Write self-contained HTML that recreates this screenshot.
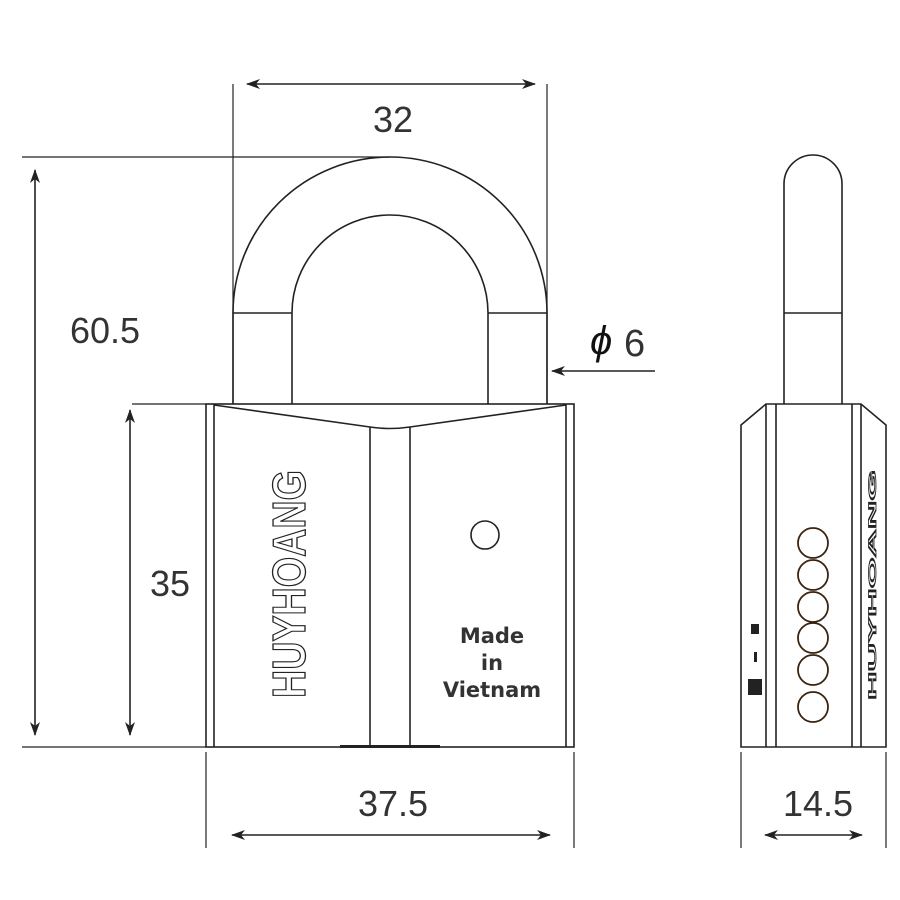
<!DOCTYPE html>
<html><head><meta charset="utf-8"><style>html,body{margin:0;padding:0;background:#fff}svg{display:block}</style></head><body>
<svg width="900" height="900" viewBox="0 0 900 900" xmlns="http://www.w3.org/2000/svg">
<defs>
<marker id="ah" viewBox="0 0 14 10" refX="13" refY="5" markerWidth="14" markerHeight="10" markerUnits="userSpaceOnUse" orient="auto-start-reverse"><path d="M0,0 L14,5 L0,10 L4,5 Z" fill="#222"/></marker>
</defs>
<g fill="none" stroke="#222" stroke-width="1.6">
<path d="M233,404 L233,313 A157,156 0 0 1 547,313 L547,404"/>
<path d="M292,404 L292,313 A98,98 0 0 1 488,313 L488,404"/>
<line x1="233" y1="313" x2="292" y2="313"/>
<line x1="488" y1="313" x2="547" y2="313"/>
<rect x="206" y="404" width="368" height="343"/>
<line x1="214" y1="404" x2="214" y2="747"/>
<line x1="566" y1="404" x2="566" y2="747"/>
<path d="M214,405 L370,427 Q390,430 410,427 L566,405"/>
<line x1="370" y1="427" x2="370" y2="747"/>
<line x1="410" y1="427" x2="410" y2="747"/>
<circle cx="485" cy="535" r="14"/>
<line x1="233" y1="84" x2="233" y2="404" stroke-width="1.2"/>
<line x1="547" y1="84" x2="547" y2="404" stroke-width="1.2"/>
<line x1="247" y1="84" x2="535" y2="84" marker-start="url(#ah)" marker-end="url(#ah)"/>
<line x1="22" y1="157" x2="390" y2="157" stroke-width="1.2"/>
<line x1="22" y1="747" x2="206" y2="747" stroke-width="1.2"/>
<line x1="35" y1="170" x2="35" y2="735" marker-start="url(#ah)" marker-end="url(#ah)"/>
<line x1="132" y1="404" x2="206" y2="404" stroke-width="1.2"/>
<line x1="130" y1="410" x2="130" y2="735" marker-start="url(#ah)" marker-end="url(#ah)"/>
<line x1="655" y1="371" x2="552" y2="371" marker-end="url(#ah)"/>
<line x1="206" y1="752" x2="206" y2="848" stroke-width="1.2"/>
<line x1="574" y1="752" x2="574" y2="848" stroke-width="1.2"/>
<line x1="232" y1="835" x2="550" y2="835" marker-start="url(#ah)" marker-end="url(#ah)"/>
<path d="M784,404 L784,184 A29,29 0 0 1 842,184 L842,404"/>
<line x1="784" y1="313" x2="842" y2="313"/>
<path d="M741,747 L741,425 L766,404 L861,404 L886,425 L886,747 Z"/>
<line x1="766" y1="404" x2="766" y2="747"/>
<line x1="776" y1="404" x2="776" y2="747"/>
<line x1="852" y1="404" x2="852" y2="747"/>
<line x1="861" y1="404" x2="861" y2="747"/>
<g stroke="#3a2410" stroke-width="1.8">
<circle cx="813" cy="543" r="15"/><circle cx="813" cy="575" r="15"/><circle cx="813" cy="607" r="15"/>
<circle cx="813" cy="638" r="15"/><circle cx="813" cy="670" r="15"/><circle cx="813" cy="707" r="15"/>
</g>
<line x1="741" y1="752" x2="741" y2="848" stroke-width="1.2"/>
<line x1="886" y1="752" x2="886" y2="848" stroke-width="1.2"/>
<line x1="765" y1="835" x2="862" y2="835" marker-start="url(#ah)" marker-end="url(#ah)"/>
</g>
<rect x="340" y="745" width="100" height="3" fill="#222"/>
<rect x="751" y="624" width="8" height="10" fill="#222"/>
<rect x="754" y="652" width="3" height="10" fill="#222"/>
<rect x="748" y="679" width="14" height="16" fill="#222"/>
<g font-family="Liberation Sans, sans-serif" fill="#333" font-size="36">
<text x="393" y="132" text-anchor="middle">32</text>
<text x="105" y="343" text-anchor="middle">60.5</text>
<text x="170" y="596" text-anchor="middle">35</text>
<text x="393" y="816" text-anchor="middle">37.5</text>
<text x="818" y="816" text-anchor="middle">14.5</text>
<text x="590" y="354" font-size="40" font-style="italic" fill="#111">ϕ</text>
<text x="624" y="356" font-size="38">6</text>
</g>
<text transform="translate(305,698) rotate(-90)" font-family="Liberation Sans, sans-serif" font-weight="bold" font-size="46" fill="none" stroke="#222" stroke-width="1.3" textLength="228" lengthAdjust="spacingAndGlyphs">HUYHOANG</text>
<text transform="translate(876,700) rotate(-90)" font-family="Liberation Sans, sans-serif" font-weight="bold" font-size="11" fill="none" stroke="#222" stroke-width="0.8" textLength="230" lengthAdjust="spacingAndGlyphs">HUYHOANG</text>
<g font-family="DejaVu Sans, sans-serif" font-weight="bold" font-size="21" fill="#333" text-anchor="middle">
<text x="492" y="643">Made</text>
<text x="492" y="670">in</text>
<text x="492" y="697">Vietnam</text>
</g>
</svg>
</body></html>
